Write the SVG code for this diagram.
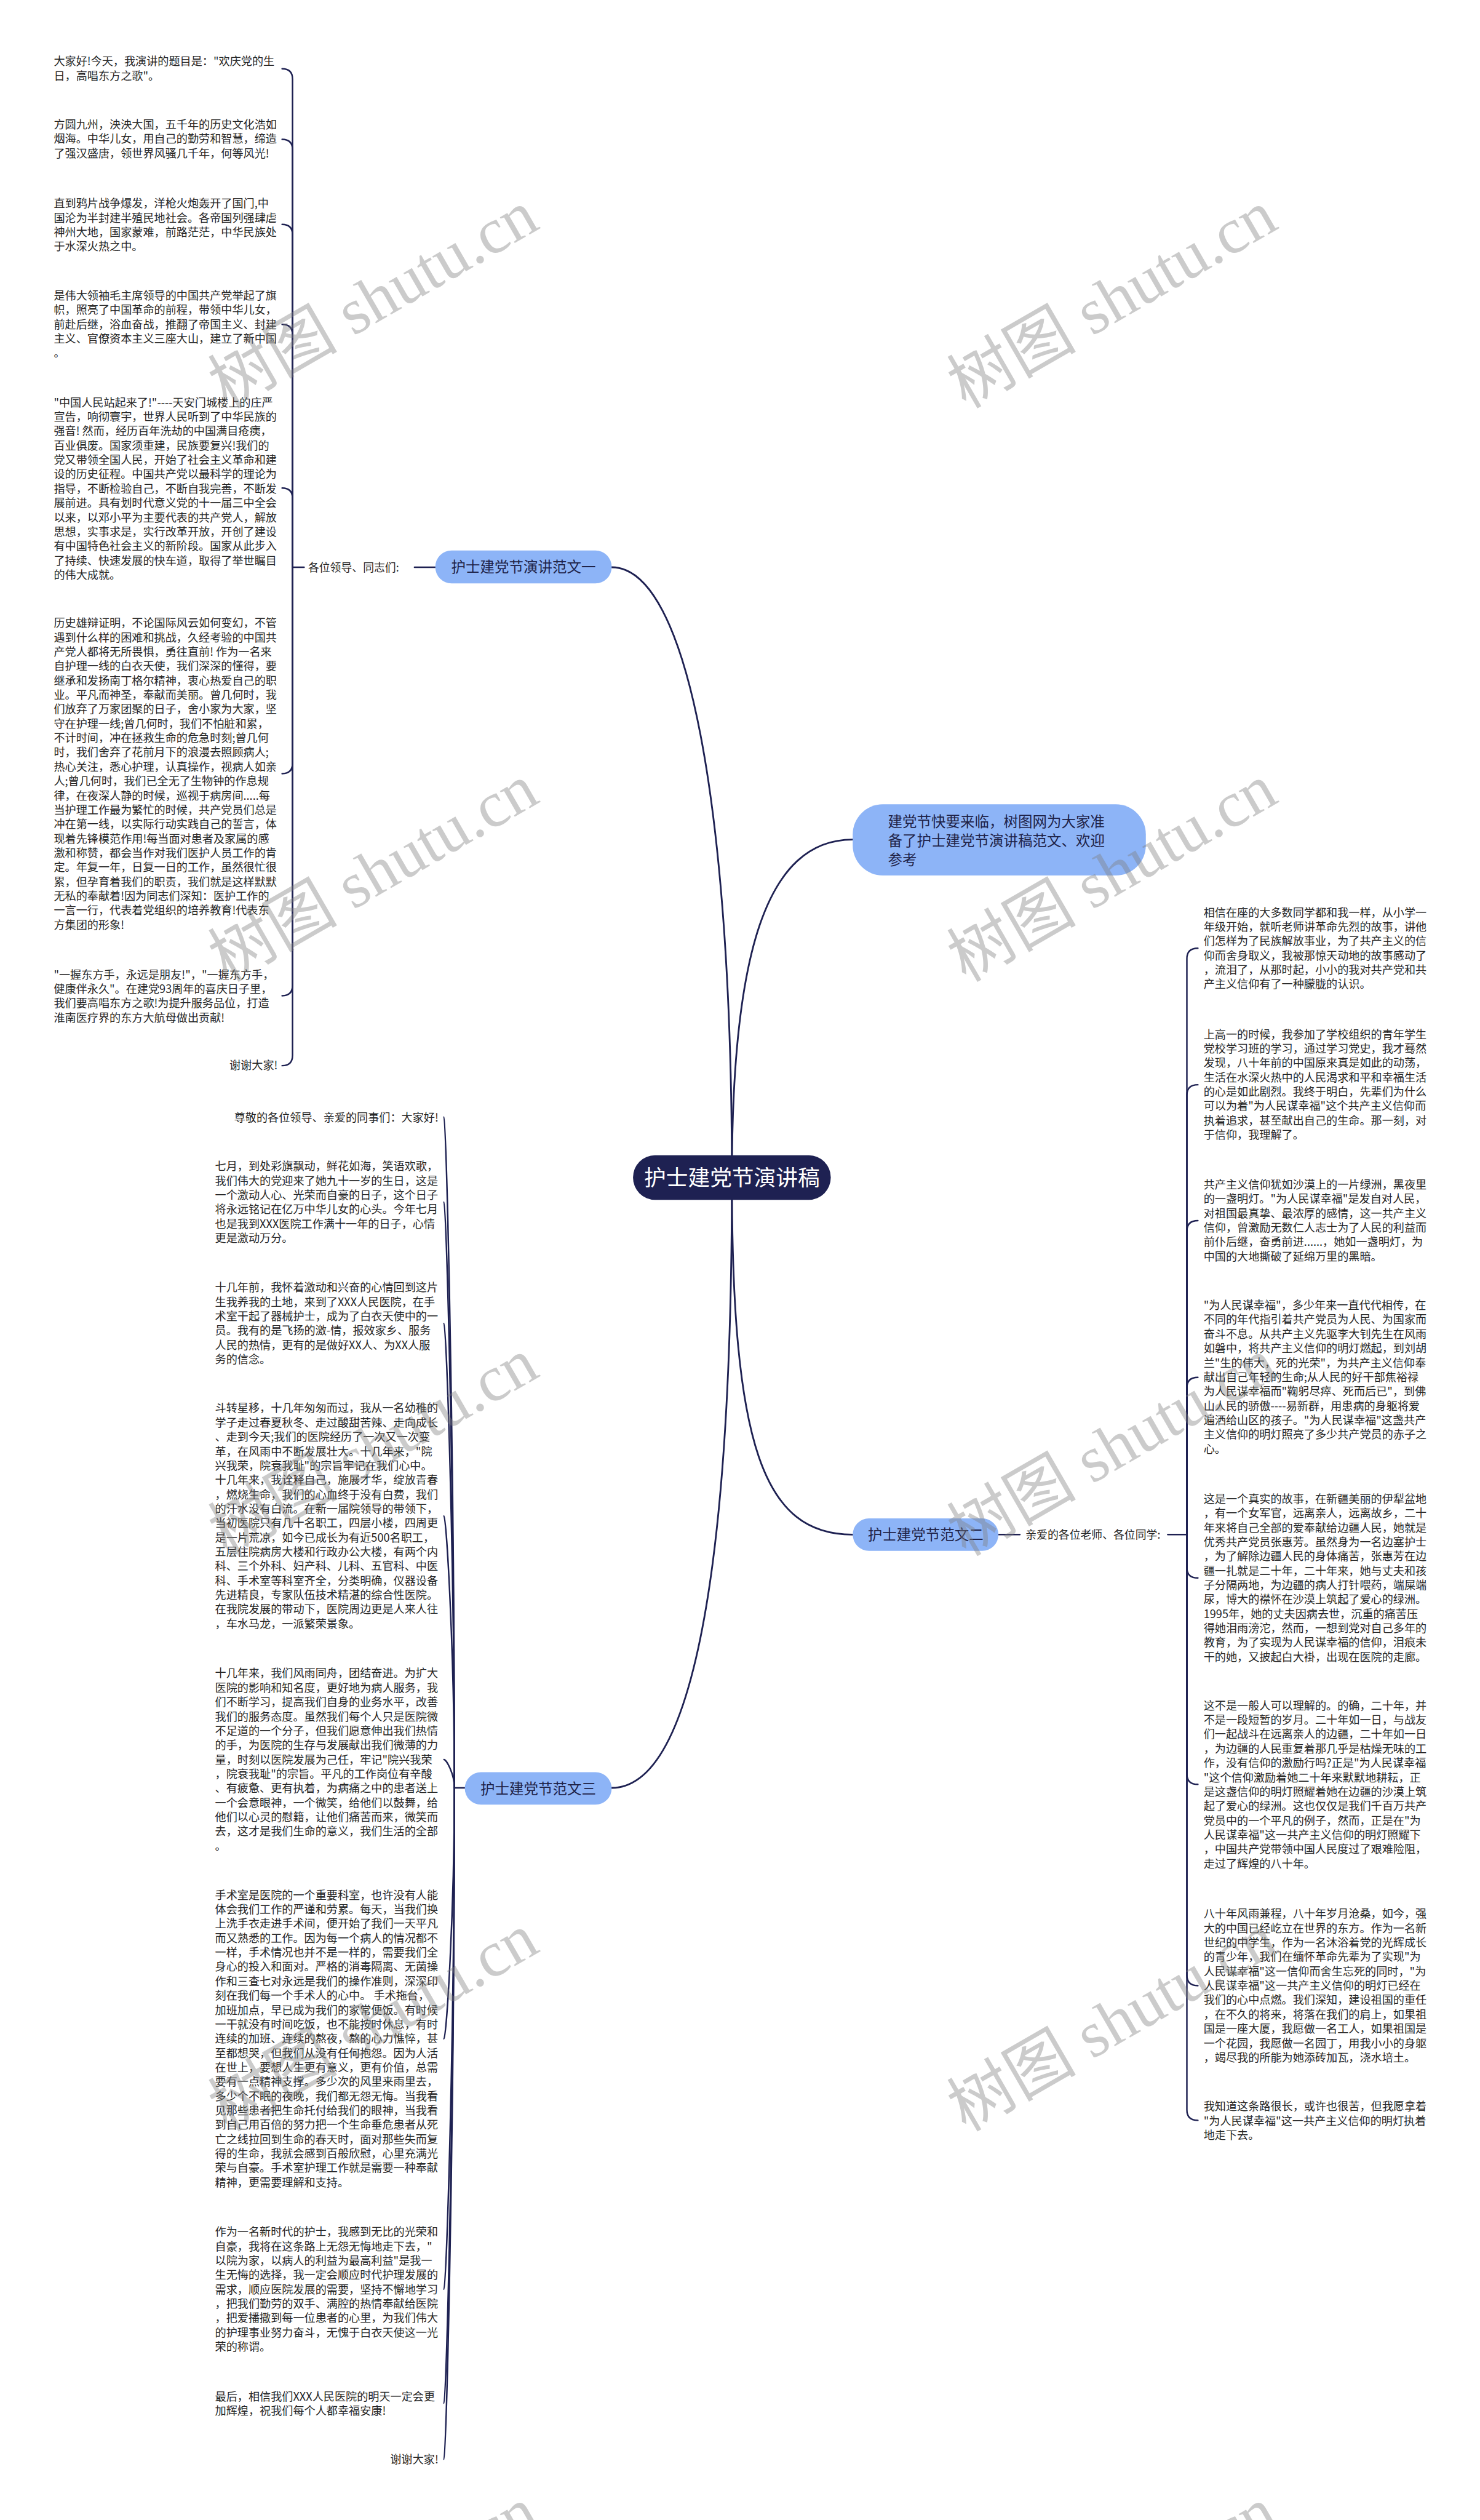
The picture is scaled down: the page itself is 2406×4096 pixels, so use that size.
<svg xmlns="http://www.w3.org/2000/svg" width="2406" height="4096" viewBox="0 0 2406 4096">
<style>
.t{font-family:"Noto Sans CJK SC","Noto Sans",sans-serif;font-size:19.3px;fill:#262626}
.lb{font-family:"Noto Sans CJK SC","Noto Sans",sans-serif;font-size:19px;fill:#262626}
.c{fill:none;stroke:#1e2152;stroke-width:3;stroke-linecap:round}
.b{fill:none;stroke:#1e2152;stroke-width:2.6;stroke-linecap:round}
.bn{fill:#8db4f7}
.bt{font-family:"Noto Sans CJK SC","Noto Sans",sans-serif;font-size:25px;fill:#1f2348}
.rt{font-family:"Noto Sans CJK SC","Noto Sans",sans-serif;font-size:38px;fill:#ffffff}
.wm{font-family:"Liberation Serif","Noto Sans CJK SC",serif;font-size:112px;fill:#7f7f7f;opacity:0.4}
</style>
<rect x="0" y="0" width="2406" height="4096" fill="#ffffff"/>
<g transform="scale(0.93984)">
<g id="connectors">
<path class="c" d="M1266 2036 C1266 1400 1190 981 1058 981"/>
<path class="c" d="M1266 2036 C1266 1650 1325 1452 1475 1452"/>
<path class="c" d="M1266 2036 C1266 2500 1320 2654 1475 2654"/>
<path class="c" d="M1266 2036 C1266 2800 1180 3092 1058 3092"/>
<path class="b" d="M717 981 H753"/>
<path class="b" d="M506 981 H526"/>
<path class="b" d="M506 981 V137 Q506 119 488 119"/>
<path class="b" d="M506 981 V259 Q506 241 488 241"/>
<path class="b" d="M506 981 V406 Q506 388 488 388"/>
<path class="b" d="M506 981 V579 Q506 561 488 561"/>
<path class="b" d="M506 981 V862 Q506 844 488 844"/>
<path class="b" d="M506 981 V1320 Q506 1338 488 1338"/>
<path class="b" d="M506 981 V1704 Q506 1722 488 1722"/>
<path class="b" d="M506 981 V1825 Q506 1843 488 1843"/>
<path class="b" d="M1727 2654 H1764"/>
<path class="b" d="M2020 2654 H2053"/>
<path class="b" d="M2053 2654 V1658 Q2053 1640 2072 1640"/>
<path class="b" d="M2053 2654 V1894 Q2053 1876 2072 1876"/>
<path class="b" d="M2053 2654 V2129 Q2053 2111 2072 2111"/>
<path class="b" d="M2053 2654 V2400 Q2053 2382 2072 2382"/>
<path class="b" d="M2053 2654 V2711 Q2053 2729 2072 2729"/>
<path class="b" d="M2053 2654 V3068 Q2053 3086 2072 3086"/>
<path class="b" d="M2053 2654 V3416 Q2053 3434 2072 3434"/>
<path class="b" d="M2053 2654 V3649 Q2053 3667 2072 3667"/>
<path class="b" d="M804 3092 H786"/>
<path class="b" d="M786 3092 C786 2512 772 1932 768 1932"/>
<path class="b" d="M786 3092 C786 2585.5 772 2079 768 2079"/>
<path class="b" d="M786 3092 C786 2690.5 772 2289 768 2289"/>
<path class="b" d="M786 3092 C786 2857 772 2622 768 2622"/>
<path class="b" d="M786 3092 C786 3067.5 772 3043 768 3043"/>
<path class="b" d="M786 3092 C786 3309 772 3526 768 3526"/>
<path class="b" d="M786 3092 C786 3525.5 772 3959 768 3959"/>
<path class="b" d="M786 3092 C786 3624 772 4156 768 4156"/>
<path class="b" d="M786 3092 C786 3672.5 772 4253 768 4253"/>
</g>
<g id="root">
<rect x="1095" y="1998" width="342" height="77" rx="38" fill="#1e2152"/>
<text class="rt" x="1266" y="2050" text-anchor="middle">护士建党节演讲稿</text>
</g>
<g id="intro">
<rect class="bn" x="1475" y="1391" width="507" height="123" rx="52"/>
<text class="bt"><tspan x="1536" y="1429.5">建党节快要来临，树图网为大家准</tspan><tspan x="1536" y="1462.5">备了护士建党节演讲稿范文、欢迎</tspan><tspan x="1536" y="1495.5">参考</tspan></text>
</g>
<g id="b1">
<rect class="bn" x="753" y="952" width="305" height="57" rx="28"/>
<text class="bt" x="905.5" y="990" text-anchor="middle">护士建党节演讲范文一</text>
</g>
<g id="b1-label"><text class="lb" x="533" y="988">各位领导、同志们:</text></g>
<g id="b2">
<rect class="bn" x="1475" y="2626" width="252" height="56" rx="28"/>
<text class="bt" x="1601" y="2663.5" text-anchor="middle">护士建党节范文二</text>
</g>
<g id="b2-label"><text class="lb" x="1774" y="2661">亲爱的各位老师、各位同学:</text></g>
<g id="b3">
<rect class="bn" x="804" y="3065" width="254" height="56" rx="28"/>
<text class="bt" x="931" y="3102.5" text-anchor="middle">护士建党节范文三</text>
</g>
<g id="b1-t1"><text class="t"><tspan x="93" y="113">大家好!今天，我演讲的题目是："欢庆党的生</tspan><tspan x="93" dy="24.85">日，高唱东方之歌"。</tspan></text></g>
<g id="b1-t2"><text class="t"><tspan x="93" y="222.5">方圆九州，泱泱大国，五千年的历史文化浩如</tspan><tspan x="93" dy="24.85">烟海。中华儿女，用自己的勤劳和智慧，缔造</tspan><tspan x="93" dy="24.85">了强汉盛唐，领世界风骚几千年，何等风光!</tspan></text></g>
<g id="b1-t3"><text class="t"><tspan x="93" y="359">直到鸦片战争爆发，洋枪火炮轰开了国门,中</tspan><tspan x="93" dy="24.85">国沦为半封建半殖民地社会。各帝国列强肆虐</tspan><tspan x="93" dy="24.85">神州大地，国家蒙难，前路茫茫，中华民族处</tspan><tspan x="93" dy="24.85">于水深火热之中。</tspan></text></g>
<g id="b1-t4"><text class="t"><tspan x="93" y="518">是伟大领袖毛主席领导的中国共产党举起了旗</tspan><tspan x="93" dy="24.85">帜，照亮了中国革命的前程，带领中华儿女，</tspan><tspan x="93" dy="24.85">前赴后继，浴血奋战，推翻了帝国主义、封建</tspan><tspan x="93" dy="24.85">主义、官僚资本主义三座大山，建立了新中国</tspan><tspan x="93" dy="24.85">。</tspan></text></g>
<g id="b1-t5"><text class="t"><tspan x="93" y="703">"中国人民站起来了!"----天安门城楼上的庄严</tspan><tspan x="93" dy="24.85">宣告，响彻寰宇，世界人民听到了中华民族的</tspan><tspan x="93" dy="24.85">强音! 然而，经历百年洗劫的中国满目疮痍，</tspan><tspan x="93" dy="24.85">百业俱废。国家须重建，民族要复兴!我们的</tspan><tspan x="93" dy="24.85">党又带领全国人民，开始了社会主义革命和建</tspan><tspan x="93" dy="24.85">设的历史征程。中国共产党以最科学的理论为</tspan><tspan x="93" dy="24.85">指导，不断检验自己，不断自我完善，不断发</tspan><tspan x="93" dy="24.85">展前进。具有划时代意义党的十一届三中全会</tspan><tspan x="93" dy="24.85">以来，以邓小平为主要代表的共产党人，解放</tspan><tspan x="93" dy="24.85">思想，实事求是，实行改革开放，开创了建设</tspan><tspan x="93" dy="24.85">有中国特色社会主义的新阶段。国家从此步入</tspan><tspan x="93" dy="24.85">了持续、快速发展的快车道，取得了举世瞩目</tspan><tspan x="93" dy="24.85">的伟大成就。</tspan></text></g>
<g id="b1-t6"><text class="t"><tspan x="93" y="1084.5">历史雄辩证明，不论国际风云如何变幻，不管</tspan><tspan x="93" dy="24.85">遇到什么样的困难和挑战，久经考验的中国共</tspan><tspan x="93" dy="24.85">产党人都将无所畏惧，勇往直前! 作为一名来</tspan><tspan x="93" dy="24.85">自护理一线的白衣天使，我们深深的懂得，要</tspan><tspan x="93" dy="24.85">继承和发扬南丁格尔精神，衷心热爱自己的职</tspan><tspan x="93" dy="24.85">业。平凡而神圣，奉献而美丽。曾几何时，我</tspan><tspan x="93" dy="24.85">们放弃了万家团聚的日子，舍小家为大家，坚</tspan><tspan x="93" dy="24.85">守在护理一线;曾几何时，我们不怕脏和累，</tspan><tspan x="93" dy="24.85">不计时间，冲在拯救生命的危急时刻;曾几何</tspan><tspan x="93" dy="24.85">时，我们舍弃了花前月下的浪漫去照顾病人;</tspan><tspan x="93" dy="24.85">热心关注，悉心护理，认真操作，视病人如亲</tspan><tspan x="93" dy="24.85">人;曾几何时，我们已全无了生物钟的作息规</tspan><tspan x="93" dy="24.85">律，在夜深人静的时候，巡视于病房间.....每</tspan><tspan x="93" dy="24.85">当护理工作最为繁忙的时候，共产党员们总是</tspan><tspan x="93" dy="24.85">冲在第一线，以实际行动实践自己的誓言，体</tspan><tspan x="93" dy="24.85">现着先锋模范作用!每当面对患者及家属的感</tspan><tspan x="93" dy="24.85">激和称赞，都会当作对我们医护人员工作的肯</tspan><tspan x="93" dy="24.85">定。年复一年，日复一日的工作，虽然很忙很</tspan><tspan x="93" dy="24.85">累，但孕育着我们的职责，我们就是这样默默</tspan><tspan x="93" dy="24.85">无私的奉献着!因为同志们深知：医护工作的</tspan><tspan x="93" dy="24.85">一言一行，代表着党组织的培养教育!代表东</tspan><tspan x="93" dy="24.85">方集团的形象!</tspan></text></g>
<g id="b1-t7"><text class="t"><tspan x="93" y="1692.5">"一握东方手，永远是朋友!"，"一握东方手，</tspan><tspan x="93" dy="24.85">健康伴永久"。在建党93周年的喜庆日子里，</tspan><tspan x="93" dy="24.85">我们要高唱东方之歌!为提升服务品位，打造</tspan><tspan x="93" dy="24.85">淮南医疗界的东方大航母做出贡献!</tspan></text></g>
<g id="b1-t8"><text class="t" x="397" y="1849.6">谢谢大家!</text></g>
<g id="b2-t1"><text class="t"><tspan x="2082" y="1585">相信在座的大多数同学都和我一样，从小学一</tspan><tspan x="2082" dy="24.85">年级开始，就听老师讲革命先烈的故事，讲他</tspan><tspan x="2082" dy="24.85">们怎样为了民族解放事业，为了共产主义的信</tspan><tspan x="2082" dy="24.85">仰而舍身取义，我被那惊天动地的故事感动了</tspan><tspan x="2082" dy="24.85">，流泪了，从那时起，小小的我对共产党和共</tspan><tspan x="2082" dy="24.85">产主义信仰有了一种朦胧的认识。</tspan></text></g>
<g id="b2-t2"><text class="t"><tspan x="2082" y="1795.7">上高一的时候，我参加了学校组织的青年学生</tspan><tspan x="2082" dy="24.85">党校学习班的学习，通过学习党史，我才蓦然</tspan><tspan x="2082" dy="24.85">发现，八十年前的中国原来真是如此的动荡，</tspan><tspan x="2082" dy="24.85">生活在水深火热中的人民渴求和平和幸福生活</tspan><tspan x="2082" dy="24.85">的心是如此剧烈。我终于明白，先辈们为什么</tspan><tspan x="2082" dy="24.85">可以为着"为人民谋幸福"这个共产主义信仰而</tspan><tspan x="2082" dy="24.85">执着追求，甚至献出自己的生命。那一刻，对</tspan><tspan x="2082" dy="24.85">于信仰，我理解了。</tspan></text></g>
<g id="b2-t3"><text class="t"><tspan x="2082" y="2055.7">共产主义信仰犹如沙漠上的一片绿洲，黑夜里</tspan><tspan x="2082" dy="24.85">的一盏明灯。"为人民谋幸福"是发自对人民，</tspan><tspan x="2082" dy="24.85">对祖国最真挚、最浓厚的感情，这一共产主义</tspan><tspan x="2082" dy="24.85">信仰，曾激励无数仁人志士为了人民的利益而</tspan><tspan x="2082" dy="24.85">前仆后继，奋勇前进......，她如一盏明灯，为</tspan><tspan x="2082" dy="24.85">中国的大地撕破了延绵万里的黑暗。</tspan></text></g>
<g id="b2-t4"><text class="t"><tspan x="2082" y="2264.3">"为人民谋幸福"，多少年来一直代代相传，在</tspan><tspan x="2082" dy="24.85">不同的年代指引着共产党员为人民、为国家而</tspan><tspan x="2082" dy="24.85">奋斗不息。从共产主义先驱李大钊先生在风雨</tspan><tspan x="2082" dy="24.85">如磐中，将共产主义信仰的明灯燃起，到刘胡</tspan><tspan x="2082" dy="24.85">兰"生的伟大，死的光荣"，为共产主义信仰奉</tspan><tspan x="2082" dy="24.85">献出自己年轻的生命;从人民的好干部焦裕禄</tspan><tspan x="2082" dy="24.85">为人民谋幸福而"鞠躬尽瘁、死而后已"，到佛</tspan><tspan x="2082" dy="24.85">山人民的骄傲----易新群，用患病的身躯将爱</tspan><tspan x="2082" dy="24.85">遍洒给山区的孩子。"为人民谋幸福"这盏共产</tspan><tspan x="2082" dy="24.85">主义信仰的明灯照亮了多少共产党员的赤子之</tspan><tspan x="2082" dy="24.85">心。</tspan></text></g>
<g id="b2-t5"><text class="t"><tspan x="2082" y="2599.3">这是一个真实的故事，在新疆美丽的伊犁盆地</tspan><tspan x="2082" dy="24.85">，有一个女军官，远离亲人，远离故乡，二十</tspan><tspan x="2082" dy="24.85">年来将自己全部的爱奉献给边疆人民，她就是</tspan><tspan x="2082" dy="24.85">优秀共产党员张惠芳。虽然身为一名边塞护士</tspan><tspan x="2082" dy="24.85">，为了解除边疆人民的身体痛苦，张惠芳在边</tspan><tspan x="2082" dy="24.85">疆一扎就是二十年，二十年来，她与丈夫和孩</tspan><tspan x="2082" dy="24.85">子分隔两地，为边疆的病人打针喂药，端屎端</tspan><tspan x="2082" dy="24.85">尿，博大的襟怀在沙漠上筑起了爱心的绿洲。</tspan><tspan x="2082" dy="24.85">1995年，她的丈夫因病去世，沉重的痛苦压</tspan><tspan x="2082" dy="24.85">得她泪雨滂沱，然而，一想到党对自己多年的</tspan><tspan x="2082" dy="24.85">教育，为了实现为人民谋幸福的信仰，泪痕未</tspan><tspan x="2082" dy="24.85">干的她，又披起白大褂，出现在医院的走廊。</tspan></text></g>
<g id="b2-t6"><text class="t"><tspan x="2082" y="2956.6">这不是一般人可以理解的。的确，二十年，并</tspan><tspan x="2082" dy="24.85">不是一段短暂的岁月。二十年如一日，与战友</tspan><tspan x="2082" dy="24.85">们一起战斗在远离亲人的边疆，二十年如一日</tspan><tspan x="2082" dy="24.85">，为边疆的人民重复着那几乎是枯燥无味的工</tspan><tspan x="2082" dy="24.85">作，没有信仰的激励行吗?正是"为人民谋幸福</tspan><tspan x="2082" dy="24.85">"这个信仰激励着她二十年来默默地耕耘，正</tspan><tspan x="2082" dy="24.85">是这盏信仰的明灯照耀着她在边疆的沙漠上筑</tspan><tspan x="2082" dy="24.85">起了爱心的绿洲。这也仅仅是我们千百万共产</tspan><tspan x="2082" dy="24.85">党员中的一个平凡的例子，然而，正是在"为</tspan><tspan x="2082" dy="24.85">人民谋幸福"这一共产主义信仰的明灯照耀下</tspan><tspan x="2082" dy="24.85">，中国共产党带领中国人民度过了艰难险阻，</tspan><tspan x="2082" dy="24.85">走过了辉煌的八十年。</tspan></text></g>
<g id="b2-t7"><text class="t"><tspan x="2082" y="3316.9">八十年风雨兼程，八十年岁月沧桑，如今，强</tspan><tspan x="2082" dy="24.85">大的中国已经屹立在世界的东方。作为一名新</tspan><tspan x="2082" dy="24.85">世纪的中学生，作为一名沐浴着党的光辉成长</tspan><tspan x="2082" dy="24.85">的青少年，我们在缅怀革命先辈为了实现"为</tspan><tspan x="2082" dy="24.85">人民谋幸福"这一信仰而舍生忘死的同时，"为</tspan><tspan x="2082" dy="24.85">人民谋幸福"这一共产主义信仰的明灯已经在</tspan><tspan x="2082" dy="24.85">我们的心中点燃。我们深知，建设祖国的重任</tspan><tspan x="2082" dy="24.85">，在不久的将来，将落在我们的肩上，如果祖</tspan><tspan x="2082" dy="24.85">国是一座大厦，我愿做一名工人，如果祖国是</tspan><tspan x="2082" dy="24.85">一个花园，我愿做一名园丁，用我小小的身躯</tspan><tspan x="2082" dy="24.85">，竭尽我的所能为她添砖加瓦，浇水培土。</tspan></text></g>
<g id="b2-t8"><text class="t"><tspan x="2082" y="3649.8">我知道这条路很长，或许也很苦，但我愿拿着</tspan><tspan x="2082" dy="24.85">"为人民谋幸福"这一共产主义信仰的明灯执着</tspan><tspan x="2082" dy="24.85">地走下去。</tspan></text></g>
<g id="b3-t1"><text class="t" x="405" y="1939.3">尊敬的各位领导、亲爱的同事们：大家好!</text></g>
<g id="b3-t2"><text class="t"><tspan x="372" y="2024">七月，到处彩旗飘动，鲜花如海，笑语欢歌，</tspan><tspan x="372" dy="24.85">我们伟大的党迎来了她九十一岁的生日，这是</tspan><tspan x="372" dy="24.85">一个激动人心、光荣而自豪的日子，这个日子</tspan><tspan x="372" dy="24.85">将永远铭记在亿万中华儿女的心头。今年七月</tspan><tspan x="372" dy="24.85">也是我到XXX医院工作满十一年的日子，心情</tspan><tspan x="372" dy="24.85">更是激动万分。</tspan></text></g>
<g id="b3-t3"><text class="t"><tspan x="372" y="2233.8">十几年前，我怀着激动和兴奋的心情回到这片</tspan><tspan x="372" dy="24.85">生我养我的土地，来到了XXX人民医院，在手</tspan><tspan x="372" dy="24.85">术室干起了器械护士，成为了白衣天使中的一</tspan><tspan x="372" dy="24.85">员。我有的是飞扬的激-情，报效家乡、服务</tspan><tspan x="372" dy="24.85">人民的热情，更有的是做好XX人、为XX人服</tspan><tspan x="372" dy="24.85">务的信念。</tspan></text></g>
<g id="b3-t4"><text class="t"><tspan x="372" y="2442.4">斗转星移，十几年匆匆而过，我从一名幼稚的</tspan><tspan x="372" dy="24.85">学子走过春夏秋冬、走过酸甜苦辣、走向成长</tspan><tspan x="372" dy="24.85">、走到今天;我们的医院经历了一次又一次变</tspan><tspan x="372" dy="24.85">革，在风雨中不断发展壮大。十几年来，"院</tspan><tspan x="372" dy="24.85">兴我荣，院衰我耻"的宗旨牢记在我们心中。</tspan><tspan x="372" dy="24.85">十几年来，我诠释自己，施展才华，绽放青春</tspan><tspan x="372" dy="24.85">，燃烧生命，我们的心血终于没有白费，我们</tspan><tspan x="372" dy="24.85">的汗水没有白流。在新一届院领导的带领下，</tspan><tspan x="372" dy="24.85">当初医院只有几十名职工，四层小楼，四周更</tspan><tspan x="372" dy="24.85">是一片荒凉，如今已成长为有近500名职工，</tspan><tspan x="372" dy="24.85">五层住院病房大楼和行政办公大楼，有两个内</tspan><tspan x="372" dy="24.85">科、三个外科、妇产科、儿科、五官科、中医</tspan><tspan x="372" dy="24.85">科、手术室等科室齐全，分类明确，仪器设备</tspan><tspan x="372" dy="24.85">先进精良，专家队伍技术精湛的综合性医院。</tspan><tspan x="372" dy="24.85">在我院发展的带动下，医院周边更是人来人往</tspan><tspan x="372" dy="24.85">，车水马龙，一派繁荣景象。</tspan></text></g>
<g id="b3-t5"><text class="t"><tspan x="372" y="2901">十几年来，我们风雨同舟，团结奋进。为扩大</tspan><tspan x="372" dy="24.85">医院的影响和知名度，更好地为病人服务，我</tspan><tspan x="372" dy="24.85">们不断学习，提高我们自身的业务水平，改善</tspan><tspan x="372" dy="24.85">我们的服务态度。虽然我们每个人只是医院微</tspan><tspan x="372" dy="24.85">不足道的一个分子，但我们愿意伸出我们热情</tspan><tspan x="372" dy="24.85">的手，为医院的生存与发展献出我们微薄的力</tspan><tspan x="372" dy="24.85">量，时刻以医院发展为己任，牢记"院兴我荣</tspan><tspan x="372" dy="24.85">，院衰我耻"的宗旨。平凡的工作岗位有辛酸</tspan><tspan x="372" dy="24.85">、有疲惫、更有执着，为病痛之中的患者送上</tspan><tspan x="372" dy="24.85">一个会意眼神，一个微笑，给他们以鼓舞，给</tspan><tspan x="372" dy="24.85">他们以心灵的慰籍，让他们痛苦而来，微笑而</tspan><tspan x="372" dy="24.85">去，这才是我们生命的意义，我们生活的全部</tspan><tspan x="372" dy="24.85">。</tspan></text></g>
<g id="b3-t6"><text class="t"><tspan x="372" y="3284.3">手术室是医院的一个重要科室，也许没有人能</tspan><tspan x="372" dy="24.85">体会我们工作的严谨和劳累。每天，当我们换</tspan><tspan x="372" dy="24.85">上洗手衣走进手术间，便开始了我们一天平凡</tspan><tspan x="372" dy="24.85">而又熟悉的工作。因为每一个病人的情况都不</tspan><tspan x="372" dy="24.85">一样，手术情况也并不是一样的，需要我们全</tspan><tspan x="372" dy="24.85">身心的投入和面对。严格的消毒隔离、无菌操</tspan><tspan x="372" dy="24.85">作和三查七对永远是我们的操作准则，深深印</tspan><tspan x="372" dy="24.85">刻在我们每一个手术人的心中。 手术拖台，</tspan><tspan x="372" dy="24.85">加班加点，早已成为我们的家常便饭。有时候</tspan><tspan x="372" dy="24.85">一干就没有时间吃饭，也不能按时休息，有时</tspan><tspan x="372" dy="24.85">连续的加班、连续的熬夜，熬的心力憔悴，甚</tspan><tspan x="372" dy="24.85">至都想哭，但我们从没有任何抱怨。因为人活</tspan><tspan x="372" dy="24.85">在世上，要想人生更有意义，更有价值，总需</tspan><tspan x="372" dy="24.85">要有一点精神支撑。多少次的风里来雨里去，</tspan><tspan x="372" dy="24.85">多少个不眠的夜晚，我们都无怨无悔。当我看</tspan><tspan x="372" dy="24.85">见那些患者把生命托付给我们的眼神，当我看</tspan><tspan x="372" dy="24.85">到自己用百倍的努力把一个生命垂危患者从死</tspan><tspan x="372" dy="24.85">亡之线拉回到生命的春天时，面对那些失而复</tspan><tspan x="372" dy="24.85">得的生命，我就会感到百般欣慰，心里充满光</tspan><tspan x="372" dy="24.85">荣与自豪。手术室护理工作就是需要一种奉献</tspan><tspan x="372" dy="24.85">精神，更需要理解和支持。</tspan></text></g>
<g id="b3-t7"><text class="t"><tspan x="372" y="3866.8">作为一名新时代的护士，我感到无比的光荣和</tspan><tspan x="372" dy="24.85">自豪，我将在这条路上无怨无悔地走下去，"</tspan><tspan x="372" dy="24.85">以院为家，以病人的利益为最高利益"是我一</tspan><tspan x="372" dy="24.85">生无悔的选择，我一定会顺应时代护理发展的</tspan><tspan x="372" dy="24.85">需求，顺应医院发展的需要，坚持不懈地学习</tspan><tspan x="372" dy="24.85">，把我们勤劳的双手、满腔的热情奉献给医院</tspan><tspan x="372" dy="24.85">，把爱播撒到每一位患者的心里，为我们伟大</tspan><tspan x="372" dy="24.85">的护理事业努力奋斗，无愧于白衣天使这一光</tspan><tspan x="372" dy="24.85">荣的称谓。</tspan></text></g>
<g id="b3-t8"><text class="t"><tspan x="372" y="4151.4">最后，相信我们XXX人民医院的明天一定会更</tspan><tspan x="372" dy="24.85">加辉煌，祝我们每个人都幸福安康!</tspan></text></g>
<g id="b3-t9"><text class="t" x="675" y="4260">谢谢大家!</text></g>
<g id="watermarks">
<text class="wm" x="645" y="556" text-anchor="middle" transform="rotate(-30 645 517)">树图 shutu.cn</text>
<text class="wm" x="1923" y="556" text-anchor="middle" transform="rotate(-30 1923 517)">树图 shutu.cn</text>
<text class="wm" x="645" y="1548" text-anchor="middle" transform="rotate(-30 645 1509)">树图 shutu.cn</text>
<text class="wm" x="1923" y="1548" text-anchor="middle" transform="rotate(-30 1923 1509)">树图 shutu.cn</text>
<text class="wm" x="645" y="2541" text-anchor="middle" transform="rotate(-30 645 2502)">树图 shutu.cn</text>
<text class="wm" x="1923" y="2541" text-anchor="middle" transform="rotate(-30 1923 2502)">树图 shutu.cn</text>
<text class="wm" x="645" y="3536" text-anchor="middle" transform="rotate(-30 645 3497)">树图 shutu.cn</text>
<text class="wm" x="1923" y="3536" text-anchor="middle" transform="rotate(-30 1923 3497)">树图 shutu.cn</text>
<text class="wm" x="645" y="4528" text-anchor="middle" transform="rotate(-30 645 4489)">树图 shutu.cn</text>
<text class="wm" x="1923" y="4528" text-anchor="middle" transform="rotate(-30 1923 4489)">树图 shutu.cn</text>
</g>
</g>
</svg>
